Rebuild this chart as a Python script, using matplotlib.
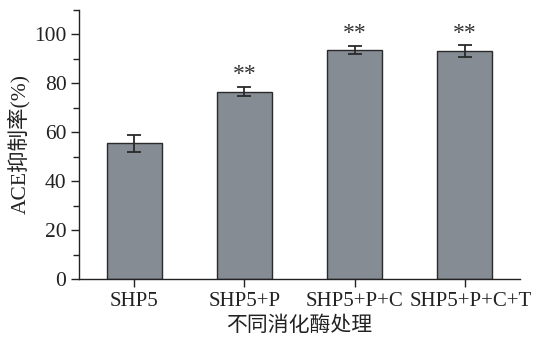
import matplotlib
matplotlib.use("Agg")
import matplotlib.pyplot as plt
from matplotlib.ticker import MultipleLocator
from matplotlib.transforms import ScaledTranslation

plt.rcParams['font.family'] = ['Liberation Serif', 'Noto Sans CJK SC']
plt.rcParams['axes.unicode_minus'] = False

categories = ["SHP5", "SHP5+P", "SHP5+P+C", "SHP5+P+C+T"]
inhibition = [55.5, 76.6, 93.8, 93.2]
errors = [3.5, 1.8, 1.6, 2.3]
marks = ["", "**", "**", "**"]

fig = plt.figure(figsize=(5.33, 3.43), dpi=100)
ax = fig.add_axes([79 / 533, 64 / 343, (520 - 79) / 533, (279 - 10) / 343])

x = list(range(len(categories)))
ax.bar(x, inhibition, width=0.5, color="#868c93", edgecolor="#2a2a2a", linewidth=1.0,
       yerr=errors, error_kw=dict(ecolor="#2a2a2a", elinewidth=1.3, capsize=5, capthick=1.3),
       zorder=2)

for xi, v, e, m in zip(x, inhibition, errors, marks):
    if m:
        ax.text(xi, v + e + 0.8, m, ha="center", va="bottom", fontsize=17,
                color="#333333", linespacing=1.0)

ax.set_xlim(-0.5, 3.5)
ax.set_ylim(0, 110)
ax.set_xticks(x)
ax.set_xticklabels(categories)
ax.yaxis.set_major_locator(MultipleLocator(20))
ax.yaxis.set_minor_locator(MultipleLocator(10))

for s in ("top", "right"):
    ax.spines[s].set_visible(False)
for s in ("left", "bottom"):
    ax.spines[s].set_linewidth(1.0)
    ax.spines[s].set_color("#222222")

ax.tick_params(axis="x", which="major", labelsize=15)
ax.tick_params(axis="y", which="major", labelsize=15.5)
ax.tick_params(axis="both", which="major", direction="out", length=6, width=1.0,
               colors="#222222", pad=3)
ax.tick_params(axis="y", which="minor", direction="out", length=4, width=1.0, colors="#222222")

# nudge the long last label right so it doesn't crowd its neighbour
last = ax.get_xticklabels()[-1]
last.set_transform(last.get_transform() + ScaledTranslation(6 / 100, 0, fig.dpi_scale_trans))

ax.set_ylabel("ACE抑制率(%)", fontsize=15.5, color="#222222", labelpad=3)
ax.set_xlabel("不同消化酶处理", fontsize=15, color="#222222", labelpad=4)

fig.savefig("out.png", dpi=100)
